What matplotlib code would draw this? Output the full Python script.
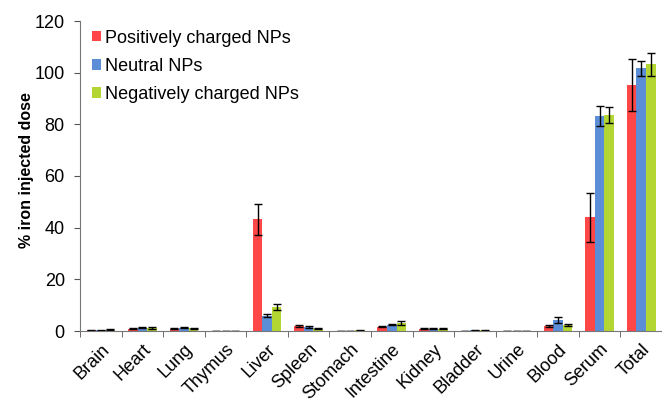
import matplotlib
matplotlib.use("Agg")
import matplotlib.pyplot as plt
import numpy as np

categories = ["Brain", "Heart", "Lung", "Thymus", "Liver", "Spleen", "Stomach",
              "Intestine", "Kidney", "Bladder", "Urine", "Blood", "Serum", "Total"]
series_names = ["Positively charged NPs", "Neutral NPs", "Negatively charged NPs"]
positive = [0.2, 0.8, 0.8, 0.1, 43.2, 2.0, 0.1, 1.7, 0.8, 0.1, 0.05, 2.1, 44.0, 95.2]
neutral = [0.2, 1.3, 1.3, 0.1, 6.0, 1.5, 0.1, 2.5, 0.9, 0.2, 0.05, 4.2, 83.2, 101.7]
negative = [0.5, 1.2, 1.1, 0.1, 9.2, 0.9, 0.2, 3.1, 0.9, 0.2, 0.05, 2.3, 83.6, 103.2]
positive_err = [0.1, 0.2, 0.2, 0.05, 6.0, 0.3, 0.05, 0.3, 0.2, 0.05, 0.02, 0.4, 9.5, 10.0]
neutral_err = [0.1, 0.3, 0.2, 0.05, 0.6, 0.3, 0.05, 0.3, 0.2, 0.05, 0.02, 1.2, 3.8, 3.0]
negative_err = [0.2, 0.5, 0.2, 0.05, 1.1, 0.2, 0.05, 0.7, 0.2, 0.05, 0.02, 0.3, 3.1, 4.3]
colors = ["#FF4747", "#5B8ED6", "#B4D633"]

plt.rcParams['font.family'] = ['Liberation Sans', 'DejaVu Sans']

fig = plt.figure(figsize=(6.62, 4.0), dpi=100)
ax = fig.add_axes([0.121, 0.1725, 0.879, 0.775])

x = np.arange(len(categories))
w = 0.23
data = [positive, neutral, negative]
errs = [positive_err, neutral_err, negative_err]
for i, (vals, e, c, name) in enumerate(zip(data, errs, colors, series_names)):
    ax.bar(x + (i - 1) * w, vals, width=w, color=c, label=name,
           yerr=e, capsize=3, error_kw=dict(elinewidth=1.0, capthick=1.0, ecolor='black'),
           zorder=2)

ax.set_xlim(-0.5, len(categories) - 0.5)
ax.set_ylim(0, 120)
ax.set_yticks(np.arange(0, 121, 20))
ax.set_xticks(x)
ax.set_xticklabels(categories, rotation=45, ha='right', rotation_mode='anchor', fontsize=13)
ax.set_xticks(np.arange(-0.5, len(categories), 1), minor=True)
ax.tick_params(axis='x', which='major', length=0, pad=7)
ax.tick_params(axis='x', which='minor', length=4, color='#555555', direction='out')
ax.tick_params(axis='y', labelsize=13, length=4, color='#555555', direction='out', pad=7)
for s in ['top', 'right']:
    ax.spines[s].set_visible(False)
ax.spines['left'].set_color('#777777')
ax.spines['bottom'].set_color('#777777')
ax.set_ylabel("% iron injected dose", fontsize=11.5, fontweight='bold')
ax.yaxis.set_label_coords(-0.079, 0.52)

ax.legend(loc='upper left', bbox_to_anchor=(-0.002, 1.013), frameon=False, fontsize=13,
          handlelength=0.5, handleheight=0.5, handletextpad=0.25, labelspacing=0.62,
          borderaxespad=0.3)

fig.savefig("out.png", dpi=100)
